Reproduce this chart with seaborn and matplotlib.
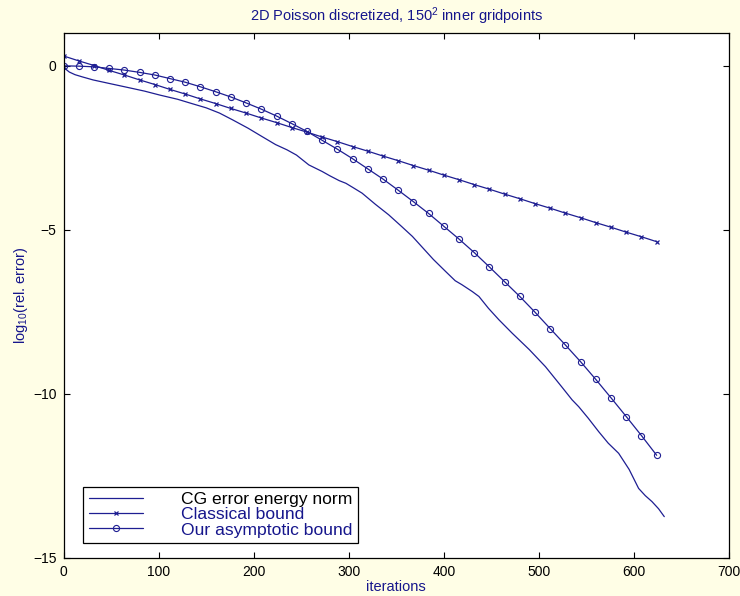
import matplotlib
matplotlib.use("Agg")
import matplotlib.pyplot as plt
import pandas as pd
import seaborn as sns

# ---------------- data ----------------
marker_iters = [0, 16, 32, 48, 64, 80, 96, 112, 128, 144, 160, 176, 192, 208,
                224, 240, 256, 272, 288, 304, 320, 336, 352, 368, 384, 400,
                416, 432, 448, 464, 480, 496, 512, 528, 544, 560, 576, 592,
                608, 624]
classical_bound = [0.30, 0.15, 0.01, -0.14, -0.28, -0.43, -0.57, -0.72, -0.86,
                   -1.01, -1.15, -1.30, -1.44, -1.59, -1.73, -1.88, -2.02,
                   -2.17, -2.31, -2.46, -2.60, -2.75, -2.89, -3.04, -3.18,
                   -3.33, -3.47, -3.62, -3.76, -3.91, -4.05, -4.20, -4.34,
                   -4.49, -4.63, -4.78, -4.92, -5.07, -5.21, -5.36]
asymptotic_bound = [0.00, -0.01, -0.03, -0.08, -0.13, -0.20, -0.28, -0.39,
                    -0.50, -0.64, -0.79, -0.95, -1.13, -1.32, -1.53, -1.76,
                    -2.00, -2.27, -2.54, -2.83, -3.14, -3.45, -3.79, -4.14,
                    -4.50, -4.89, -5.28, -5.69, -6.13, -6.58, -7.03, -7.51,
                    -8.01, -8.51, -9.02, -9.56, -10.12, -10.69, -11.27, -11.87]
cg_iters = [0, 3, 6, 12, 20, 31, 50, 66, 85, 101, 120, 136, 150, 164, 178, 194,
            209, 223, 235, 245, 258, 272, 280, 290, 297, 305, 314, 328, 342,
            355, 367, 378, 389, 402, 412, 419, 430, 437, 447, 458, 472, 490,
            507, 524, 535, 542, 552, 563, 573, 584, 595, 605, 612, 619, 626,
            632]
cg_error = [0.00, -0.12, -0.19, -0.27, -0.34, -0.43, -0.55, -0.65, -0.77,
            -0.89, -1.02, -1.16, -1.28, -1.44, -1.65, -1.90, -2.16, -2.40,
            -2.56, -2.72, -3.02, -3.22, -3.35, -3.50, -3.58, -3.72, -3.88,
            -4.22, -4.54, -4.88, -5.20, -5.55, -5.90, -6.27, -6.55, -6.67,
            -6.88, -7.03, -7.39, -7.74, -8.15, -8.65, -9.17, -9.78, -10.18,
            -10.39, -10.74, -11.15, -11.50, -11.81, -12.30, -12.88, -13.10,
            -13.28, -13.50, -13.74]
legend_labels = ["CG error energy norm", "Classical bound", "Our asymptotic bound"]
x_ticks = [0, 100, 200, 300, 400, 500, 600, 700]
y_ticks = [-15, -10, -5, 0]

# ---------------- style ----------------
sns.set_style("ticks")
plt.rcParams["font.family"] = ["Liberation Sans", "DejaVu Sans"]
plt.rcParams["mathtext.fontset"] = "custom"
plt.rcParams["mathtext.rm"] = "Liberation Sans"
plt.rcParams["mathtext.it"] = "Liberation Sans:italic"
plt.rcParams["mathtext.bf"] = "Liberation Sans:bold"

bg = "#fffee6"
line_c = "#1e1e92"
text_blue = "#16168c"

fig = plt.figure(figsize=(7.4, 5.96), dpi=100, facecolor=bg)
ax = fig.add_axes([0.086, 0.0638, 0.899, 0.8808])
ax.set_facecolor("white")

cg_df = pd.DataFrame({"it": cg_iters, "val": cg_error})
cl_df = pd.DataFrame({"it": marker_iters, "val": classical_bound})
as_df = pd.DataFrame({"it": marker_iters, "val": asymptotic_bound})

sns.lineplot(data=cg_df, x="it", y="val", ax=ax, color=line_c, lw=0.9,
             estimator=None, label=legend_labels[0])
sns.lineplot(data=cl_df, x="it", y="val", ax=ax, color=line_c, lw=0.9,
             estimator=None, marker="x", markersize=3.2, markeredgewidth=0.9,
             markeredgecolor=line_c, label=legend_labels[1])
sns.lineplot(data=as_df, x="it", y="val", ax=ax, color=line_c, lw=0.9,
             estimator=None, marker="o", markersize=4.4, markerfacecolor="none",
             markeredgecolor=line_c, markeredgewidth=0.8,
             label=legend_labels[2])

ax.set_xlim(0, 700)
ax.set_ylim(-15, 1)
ax.set_xticks(x_ticks)
ax.set_yticks(y_ticks)
ax.tick_params(direction="in", length=4, width=0.8, top=True, right=True,
               labelsize=10, pad=5, colors="black")
for s in ax.spines.values():
    s.set_visible(True)
    s.set_linewidth(0.9)
    s.set_color("black")

ax.set_title("2D Poisson discretized, 150$^2$ inner gridpoints",
             fontsize=10.5, color=text_blue, pad=9)
ax.set_xlabel("iterations", fontsize=10.5, color=text_blue, labelpad=1)
ax.set_ylabel("log$_{10}$(rel. error)", fontsize=10.5, color=text_blue,
              labelpad=2)

handles, labels = ax.get_legend_handles_labels()
leg = ax.legend(handles, labels, loc="lower left",
                bbox_to_anchor=(0.0295, 0.029), borderaxespad=0,
                fontsize=12.6, frameon=True, fancybox=False, framealpha=1,
                edgecolor="black", handlelength=3.1, handletextpad=2.2,
                labelspacing=0.0, borderpad=0.3)
leg.get_frame().set_linewidth(0.9)
for i, t in enumerate(leg.get_texts()):
    t.set_color("black" if i == 0 else text_blue)

fig.savefig("out.png", dpi=100, facecolor=bg)
